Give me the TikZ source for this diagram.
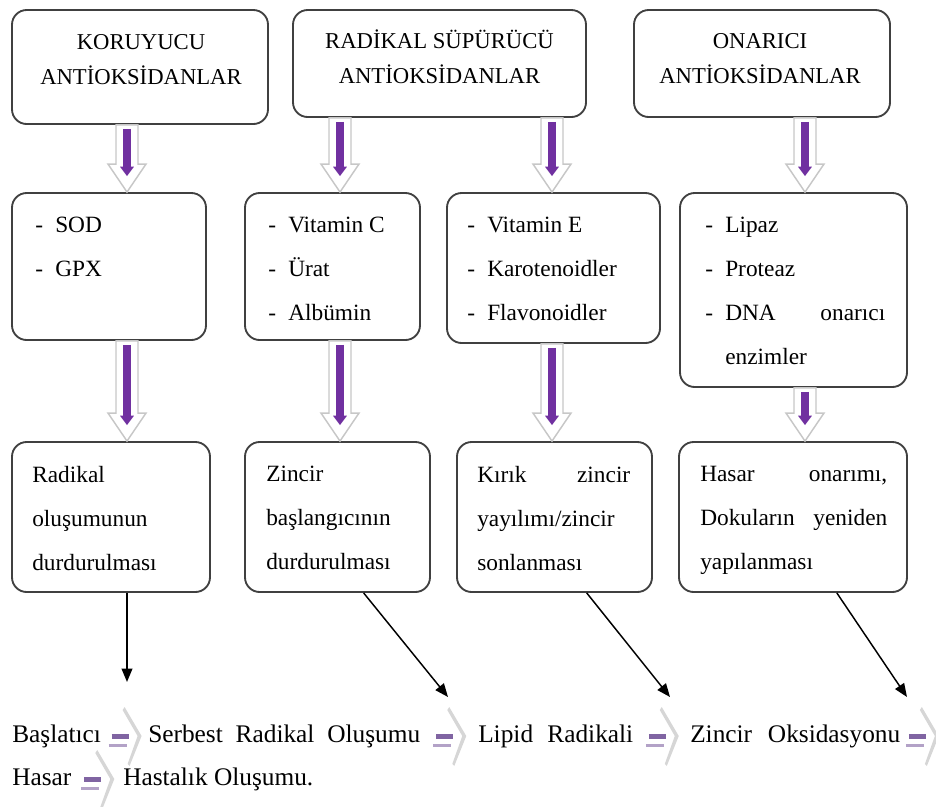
\documentclass[tikz,border=0pt]{standalone}
\usepackage{fontspec}
\setmainfont{Liberation Serif}
\usepackage{tikz}
\usetikzlibrary{arrows.meta,calc}

\definecolor{koyumor}{HTML}{7030A0}
\definecolor{zincirmor}{HTML}{8064A2}
\definecolor{solukmor}{HTML}{B3A2C7}
\newcommand{\itm}{\makebox[15bp][l]{-}}

\tikzset{
  kutu/.style={draw=black!75, line width=1.4bp, rounded corners=11bp, inner sep=0pt},
  baslik/.style={inner sep=0pt, align=center, anchor=south, font=\fontsize{17bp}{26.25bp}\selectfont},
  liste/.style={inner sep=0pt, align=left, anchor=north west, font=\fontsize{17.5bp}{33bp}\selectfont},
  satir/.style={inner sep=0pt, align=left, anchor=base west, font=\fontsize{19bp}{23bp}\selectfont},
  blokok/.style={draw=black!22, fill=white, line width=1.1bp,
    to path={let \p1=(\tikztostart), \p2=(\tikztotarget) in
      (\x1-8.25bp,\y1) -- (\x1-8.25bp,\y2+21bp) -- (\x1-14.25bp,\y2+21bp) -- (\x2,\y2)
      -- (\x1+14.25bp,\y2+21bp) -- (\x1+8.25bp,\y2+21bp) -- (\x1+8.25bp,\y1) -- cycle}},
  morgovde/.style={koyumor, line width=6bp, shorten <=3bp, shorten >=12bp, -{Triangle[width=10bp,length=7bp]}},
  ince/.style={black, line width=1.1bp, -{Triangle[width=8bp,length=10bp]}},
  zincirok/.pic={
    \fill[black!16] (0,-35) -- (17,-6) -- (5,24) -- (3,22) -- (13,-6) -- (-2,-32) -- cycle;
    \draw[zincirmor, line width=4bp] (-13,-5.5) -- (4,-5.5);
    \draw[solukmor, line width=2.2bp] (-16,3.5) -- (2,3.5);
  }
}

\begin{document}
\begin{tikzpicture}[x=0.75bp, y=-0.75bp]
\useasboundingbox (0,0) rectangle (936,807);
%% sutunlar
\coordinate (c1) at (127,0);
\coordinate (c2) at (340,0);
\coordinate (c3) at (552,0);
\coordinate (c4) at (805,0);
%%
\begin{scope}
  \node (koru) at (140,67) [kutu, minimum width=192bp, minimum height=85.5bp] {};
  \node (radsup) at (439.5,63.5) [kutu, minimum width=219.75bp, minimum height=80.25bp] {};
  \node (onar) at (762,63.5) [kutu, minimum width=192bp, minimum height=80.25bp] {};
  \node (korul) at (109,266.5) [kutu, minimum width=145.5bp, minimum height=110.25bp] {};
  \node (vitc) at (332.5,266.5) [kutu, minimum width=131.25bp, minimum height=110.25bp] {};
  \node (vite) at (553.5,268) [kutu, minimum width=159.75bp, minimum height=112.5bp] {};
  \node (enzim) at (793.5,290) [kutu, minimum width=170.25bp, minimum height=145.5bp] {};
  \node (dur1) at (111,517) [kutu, minimum width=148.5bp, minimum height=112.5bp] {};
  \node (dur2) at (337.5,517) [kutu, minimum width=138.75bp, minimum height=112.5bp] {};
  \node (kirik) at (554.5,517) [kutu, minimum width=146.25bp, minimum height=112.5bp] {};
  \node (hasark) at (793,517) [kutu, minimum width=171bp, minimum height=112.5bp] {};
\end{scope}
%% kalin oklar
\begin{scope}
  \draw[blokok] (koru.south -| c1) to (korul.north -| c1);
  \draw[morgovde] (koru.south -| c1) -- (korul.north -| c1);
  \draw[blokok] (radsup.south -| c2) to (vitc.north -| c2);
  \draw[morgovde] (radsup.south -| c2) -- (vitc.north -| c2);
  \draw[blokok] (radsup.south -| c3) to (vite.north -| c3);
  \draw[morgovde] (radsup.south -| c3) -- (vite.north -| c3);
  \draw[blokok] (onar.south -| c4) to (enzim.north -| c4);
  \draw[morgovde] (onar.south -| c4) -- (enzim.north -| c4);
  \draw[blokok] (korul.south -| c1) to (dur1.north -| c1);
  \draw[morgovde] (korul.south -| c1) -- (dur1.north -| c1);
  \draw[blokok] (vitc.south -| c2) to (dur2.north -| c2);
  \draw[morgovde] (vitc.south -| c2) -- (dur2.north -| c2);
  \draw[blokok] (vite.south -| c3) to (kirik.north -| c3);
  \draw[morgovde] (vite.south -| c3) -- (kirik.north -| c3);
  \draw[blokok] (enzim.south -| c4) to (hasark.north -| c4);
  \draw[morgovde] (enzim.south -| c4) -- (hasark.north -| c4);
\end{scope}
%% kutu yazilari
\begin{scope}
  \node (korut) at (141,85) [baslik] {KORUYUCU\\ANTİOKSİDANLAR};
  \node (radsupt) at (439.5,84) [baslik] {RADİKAL SÜPÜRÜCÜ\\ANTİOKSİDANLAR};
  \node (onart) at (760,84) [baslik] {ONARICI\\ANTİOKSİDANLAR};
  \node (korult) at (35,217) [liste] {\itm SOD\\\itm GPX};
  \node (vitct) at (268,217) [liste] {\itm Vitamin C\\\itm Ürat\\\itm Albümin};
  \node (vitet) at (467,217) [liste] {\itm Vitamin E\\\itm Karotenoidler\\\itm Flavonoidler};
  \node (enzimt) at (705,217) [liste, text width=135bp] {\itm Lipaz\\\itm Proteaz\\\itm DNA\hfill onarıcı\\\hspace*{15bp}enzimler};
  \node (dur1t) at (32,466) [liste] {Radikal\\oluşumunun\\durdurulması};
  \node (dur2t) at (266,466) [liste] {Zincir\\başlangıcının\\durdurulması};
  \node (kirikt) at (477,466) [liste, text width=114.75bp] {Kırık\hfill zincir\\yayılımı/zincir\\sonlanması};
  \node (hasarkt) at (700,466) [liste, text width=140.25bp] {Hasar\hfill onarımı,\\Dokuların\hfill yeniden\\yapılanması};
\end{scope}
%% zincir
\begin{scope}
  \node (baslat) at (12,742) [satir] {Başlatıcı};
  \node (serbest) at (148,742) [satir, text width=204bp] {Serbest\hfill Radikal\hfill Oluşumu};
  \node (lipid) at (478,742) [satir, text width=116.25bp] {Lipid\hfill Radikali};
  \node (zoks) at (690,742) [satir, text width=157.5bp] {Zincir\hfill Oksidasyonu};
  \node (hasar) at (12,785) [satir] {Hasar};
  \node (hastalik) at (123,785) [satir] {Hastalık Oluşumu.};
  \pic at ($(baslat.base east)!.5!(serbest.base west)$) {zincirok};
  \pic at ($(serbest.base east)!.5!(lipid.base west)$) {zincirok};
  \pic at ($(lipid.base east)!.5!(zoks.base west)$) {zincirok};
  \pic at ([xshift=16bp]zoks.base east) {zincirok};
  \pic at ($(hasar.base east)!.5!(hastalik.base west)$) {zincirok};
\end{scope}
%% ince oklar
\coordinate (e0) at (127,682);
\coordinate (e1) at (448,697);
\coordinate (e2) at (670,697);
\coordinate (e3) at (907,697);
\begin{scope}
  \draw[ince] (dur1.south -| c1) -- (e0);
  \draw[ince] (dur2.-71) -- (e1);
  \draw[ince] (kirik.-67) -- (e2);
  \draw[ince] (hasark.-60) -- (e3);
\end{scope}
%
\end{tikzpicture}
\end{document}
